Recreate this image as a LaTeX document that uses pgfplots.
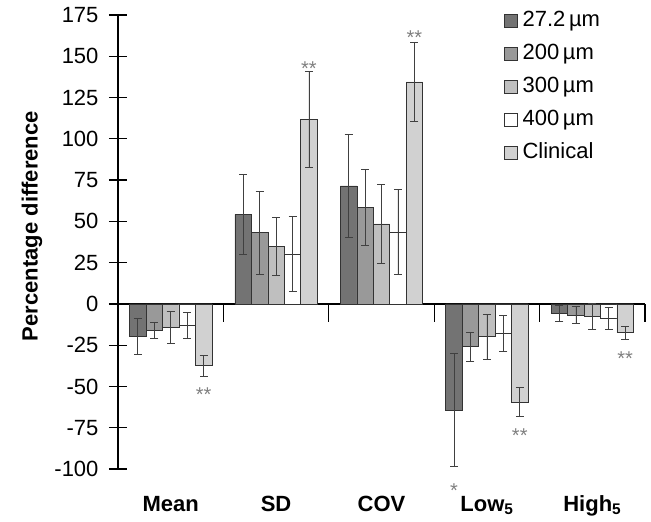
\documentclass[border=0pt]{standalone}
\usepackage{pgfplots}
\pgfplotsset{compat=1.18}
\usepackage{fontspec}
\setmainfont{Liberation Sans}
\definecolor{cA}{gray}{0.45}
\definecolor{cB}{gray}{0.60}
\definecolor{cC}{gray}{0.75}
\definecolor{cD}{gray}{1.00}
\definecolor{cE}{gray}{0.82}
\begin{document}
\begin{tikzpicture}
\useasboundingbox (-118pt,-53pt) rectangle (533pt,469pt);
\begin{axis}[
  at={(0pt,0pt)}, anchor=south west,
  scale only axis, width=527pt, height=454pt,
  xmin=0, xmax=5, ymin=-100, ymax=175,
  axis x line=middle, axis y line=left,
  x axis line style={-, line width=1.4pt},
  y axis line style={-, line width=1.4pt},
  hide obscured x ticks=false, hide obscured y ticks=false,
  xtick={1,2,3,4,5}, xticklabels={},
  ytick={-100,-75,...,175},
  tick align=center, major tick length=18pt,
  every tick/.style={black, line width=1.2pt},
  /pgf/number format/assume math mode=true,
  yticklabel style={font=\fontsize{22}{26}\selectfont, xshift=-7pt},
  ybar=0pt, bar width=0.156,
  every axis plot post/.append style={
    draw=black!80, line width=0.6pt,
    legend image code/.code={\draw[#1,draw=black!80,line width=0.6pt] (0pt,-6pt) rectangle (13pt,7pt);}
  },
  legend cell align=left,
  legend style={draw=none, fill=none, at={(rel axis cs:0.7324,1.0088)}, anchor=north west,
    font=\fontsize{22}{26}\selectfont, row sep=13pt, inner sep=0pt, outer sep=0pt,
    nodes={inner sep=0pt, text height=16pt, text depth=4pt},
    /tikz/every odd column/.append style={column sep=5pt}},
  error bars/y dir=both, error bars/y explicit,
  error bars/error bar style={black!75, line width=0.7pt},
  error bars/error mark options={black!75, line width=0.7pt, mark size=4pt, rotate=90},
  clip=false,
]
\addplot[fill=cA] coordinates {
  (0.5,-19.8) +- (0,10.8)
  (1.5,54.3) +- (0,24.3)
  (2.5,71.5) +- (0,31)
  (3.5,-64.2) +- (0,34.3)
  (4.5,-5.7) +- (0,4.7)
};
\addplot[fill=cB] coordinates {
  (0.5,-16.1) +- (0,4.8)
  (1.5,43.2) +- (0,25)
  (2.5,58.3) +- (0,23)
  (3.5,-25.8) +- (0,8.8)
  (4.5,-6.7) +- (0,5)
};
\addplot[fill=cC] coordinates {
  (0.5,-14.1) +- (0,9.8)
  (1.5,34.9) +- (0,17.5)
  (2.5,48.5) +- (0,24)
  (3.5,-19.8) +- (0,13.7)
  (4.5,-7.7) +- (0,8)
};
\addplot[fill=cD] coordinates {
  (0.5,-13.1) +- (0,7.8)
  (1.5,30.3) +- (0,22.8)
  (2.5,43.4) +- (0,25.7)
  (3.5,-17.8) +- (0,10.9)
  (4.5,-8.7) +- (0,6.8)
};
\addplot[fill=cE] coordinates {
  (0.5,-37.4) +- (0,6.4)
  (1.5,112) +- (0,29)
  (2.5,134.5) +- (0,23.8)
  (3.5,-59.4) +- (0,8.9)
  (4.5,-17.4) +- (0,3.9)
};
\legend{27.2\,µm, 200\,µm, 300\,µm, 400\,µm, Clinical}
% significance markers
\node[anchor=base, inner sep=0pt, text=black!50, font=\fontsize{20}{24}\selectfont] at (axis cs:0.812,-59.2) {**};
\node[anchor=base, inner sep=0pt, text=black!50, font=\fontsize{20}{24}\selectfont] at (axis cs:1.812,138.3) {**};
\node[anchor=base, inner sep=0pt, text=black!50, font=\fontsize{20}{24}\selectfont] at (axis cs:2.812,157.3) {**};
\node[anchor=base, inner sep=0pt, text=black!50, font=\fontsize{20}{24}\selectfont] at (axis cs:3.188,-117.3) {*};
\node[anchor=base, inner sep=0pt, text=black!50, font=\fontsize{20}{24}\selectfont] at (axis cs:3.812,-84) {**};
\node[anchor=base, inner sep=0pt, text=black!50, font=\fontsize{20}{24}\selectfont] at (axis cs:4.812,-37.4) {**};
% category labels
\node[anchor=base, font=\fontsize{22}{26}\selectfont\bfseries, yshift=-42pt] at (axis cs:0.5,-100) {Mean};
\node[anchor=base, font=\fontsize{22}{26}\selectfont\bfseries, yshift=-42pt] at (axis cs:1.5,-100) {SD};
\node[anchor=base, font=\fontsize{22}{26}\selectfont\bfseries, yshift=-42pt] at (axis cs:2.5,-100) {COV};
\node[anchor=base, font=\fontsize{22}{26}\selectfont\bfseries, yshift=-42pt] at (axis cs:3.5,-100) {Low\textsubscript{5}};
\node[anchor=base, font=\fontsize{22}{26}\selectfont\bfseries, yshift=-42pt] at (axis cs:4.5,-100) {High\textsubscript{5}};
\node[rotate=90, font=\fontsize{22}{26}\selectfont\bfseries] at ([xshift=-86pt]rel axis cs:0,0.535) {Percentage difference};
\end{axis}
\end{tikzpicture}
\end{document}
